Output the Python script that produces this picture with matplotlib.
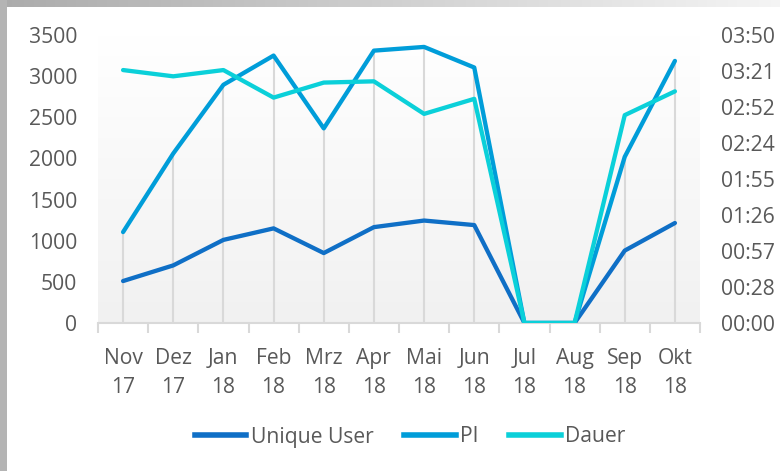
import numpy as np
import matplotlib
matplotlib.use("Agg")
import matplotlib.pyplot as plt
from matplotlib.lines import Line2D

plt.rcParams['font.family'] = ['Open Sans', 'DejaVu Sans']

months = ["Nov\n17", "Dez\n17", "Jan\n18", "Feb\n18", "Mrz\n18", "Apr\n18",
          "Mai\n18", "Jun\n18", "Jul\n18", "Aug\n18", "Sep\n18", "Okt\n18"]
unique_user = [510, 700, 1010, 1150, 850, 1165, 1245, 1190, 0, 0, 880, 1215]
pi = [1105, 2060, 2895, 3250, 2365, 3310, 3355, 3105, 0, 0, 2020, 3185]
dauer_sec = [202, 197, 202, 180, 192, 193, 167, 179, 0, 0, 166, 185]
left_ticks = [0, 500, 1000, 1500, 2000, 2500, 3000, 3500]
right_tick_labels = ["00:00", "00:28", "00:57", "01:26", "01:55", "02:24", "02:52", "03:21", "03:50"]
right_max = 230

c_uu = "#0F6FC6"
c_pi = "#009DD9"
c_da = "#0BD0D9"
txt = "#595959"
grid_c = "#d9d9d9"
fs = 15.2

W, H = 780, 471
fig = plt.figure(figsize=(W/100, H/100), dpi=100)
fig.patch.set_facecolor("white")

# frame: left strip and top gradient strip
bg = fig.add_axes([0, 0, 1, 1], zorder=-10)
bg.set_xlim(0, W); bg.set_ylim(H, 0); bg.axis("off")
grad = np.linspace(0.67, 0.96, 256).reshape(1, -1)
bg.imshow(np.dstack([grad, grad, grad]), extent=[0, W, 7, 0], aspect="auto")
bg.add_patch(plt.Rectangle((0, 0), 7, H, color="#b4b4b4", lw=0))

x = np.arange(len(months))
ax = fig.add_axes([98/W, 1 - 323/H, (700-98)/W, (323-35)/H])
ax.set_xlim(-0.5, len(months) - 0.5)
ax.set_ylim(0, 3500)

# plot area gradient
vg = np.linspace(1.0, 0.945, 256).reshape(-1, 1)
ax.imshow(np.dstack([vg, vg, vg]), extent=[-0.5, len(months) - 0.5, 0, 3500],
          aspect="auto", zorder=0)

tops = [max(a, b) for a, b in zip(unique_user, pi)]
ax.vlines(x, 0, tops, color=grid_c, lw=1.5, zorder=1)

kw = dict(lw=3.1, solid_capstyle="round", solid_joinstyle="round", zorder=3)
ax.plot(x, unique_user, color=c_uu, **kw)
ax.plot(x, pi, color=c_pi, **kw)

for s in ["top", "left", "right"]:
    ax.spines[s].set_visible(False)
ax.spines["bottom"].set_color(grid_c)
ax.spines["bottom"].set_linewidth(1.5)
ax.set_xticks(x)
ax.set_xticklabels(months, fontsize=fs, color=txt, linespacing=1.5)
ax.set_xticks(np.arange(-0.5, len(months)), minor=True)
ax.tick_params(axis="x", which="major", length=0, pad=18)
ax.tick_params(axis="x", which="minor", length=7, width=1.5, color=grid_c)
ax.set_yticks(left_ticks)
ax.set_yticklabels([str(v) for v in left_ticks], fontsize=fs, color=txt)
ax.tick_params(axis="y", length=0, pad=15)

ax2 = ax.twinx()
ax2.set_ylim(0, right_max)
ax2.plot(x, dauer_sec, color=c_da, **kw)
for s in ["top", "left", "right", "bottom"]:
    ax2.spines[s].set_visible(False)
ax2.set_yticks(np.linspace(0, right_max, len(right_tick_labels)))
ax2.set_yticklabels(right_tick_labels, fontsize=fs, color=txt)
ax2.tick_params(axis="y", length=0, pad=15)

handles = [Line2D([], [], color=c_uu, lw=4), Line2D([], [], color=c_pi, lw=4),
           Line2D([], [], color=c_da, lw=4)]
leg = fig.legend(handles, ["Unique User", "PI", "Dauer"], loc="center",
                 bbox_to_anchor=(410/W, 1 - 437/H), ncol=3, frameon=False,
                 fontsize=fs, handlelength=2.45, handletextpad=0.2, columnspacing=1.45)
for t in leg.get_texts():
    t.set_color(txt)

fig.savefig("out.png", dpi=100)
